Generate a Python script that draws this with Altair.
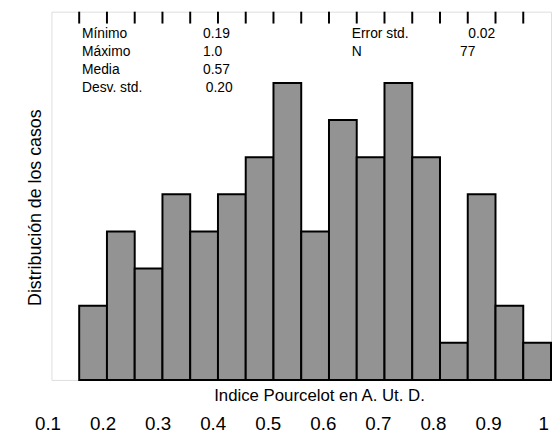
import altair as alt
import pandas as pd

# ---- data ----
bin_starts = [0.15, 0.20, 0.25, 0.30, 0.35, 0.40, 0.45, 0.50, 0.55,
              0.60, 0.65, 0.70, 0.75, 0.80, 0.85, 0.90, 0.95]
counts = [2, 4, 3, 5, 4, 5, 6, 8, 4, 7, 6, 8, 6, 1, 5, 2, 1]
bin_width = 0.05

tick_label_values = [0.1, 0.2, 0.3, 0.4, 0.5, 0.6, 0.7, 0.8, 0.9, 1.0]

stat_names = ["Mínimo", "Máximo", "Media", "Desv. std.", "Error std.", "N"]
stat_values = ["0.19", "1.0", "0.57", "0.20", "0.02", "77"]

x_title = "Indice Pourcelot en A. Ut. D."
y_title = "Distribución de los casos"

# ---- layout (kept apart from the data) ----
FONT = "Liberation Sans"
W, H = 506, 373
X_DOMAIN = [0.1, 1.0]
Y_DOMAIN = [0, 9.92]

name_x = [0.155, 0.155, 0.155, 0.155, 0.641, 0.641]
value_x = [0.373, 0.373, 0.373, 0.378, 0.851, 0.836]
row_y = [9.33, 8.83, 8.34, 7.85, 9.33, 8.83]

bars_df = pd.DataFrame({
    "start": bin_starts,
    "end": [b + bin_width for b in bin_starts],
    "count": counts,
})
ticks_df = pd.DataFrame({"edge": bin_starts})
labels_df = pd.DataFrame({"v": tick_label_values})
ann_df = pd.DataFrame({
    "name": stat_names, "value": stat_values,
    "nx": name_x, "vx": value_x, "y": row_y,
})

xs = alt.Scale(domain=X_DOMAIN, nice=False, zero=False)
ys = alt.Scale(domain=Y_DOMAIN, nice=False, zero=True)

bars = alt.Chart(bars_df).mark_rect(
    color="#939393", stroke="black", strokeWidth=2
).encode(
    x=alt.X("start:Q", scale=xs, axis=None),
    x2="end:Q",
    y=alt.Y("count:Q", scale=ys, axis=alt.Axis(
        title=y_title, labels=False, ticks=False, domain=False, grid=False,
        titleFont=FONT, titleFontSize=18, titleFontWeight="normal",
        titleColor="black", titleAngle=270, titleBaseline="middle",
        titleAlign="center", titleX=-16, titleY=198)),
    y2=alt.datum(0),
)

top_ticks = alt.Chart(ticks_df).mark_rule(color="black", strokeWidth=2).encode(
    x=alt.X("edge:Q", scale=xs, axis=None),
    y=alt.value(0),
    y2=alt.value(12),
)

names = alt.Chart(ann_df).mark_text(
    align="left", baseline="middle", font=FONT, fontSize=14, color="black"
).encode(
    x=alt.X("nx:Q", scale=xs, axis=None),
    y=alt.Y("y:Q", scale=ys),
    text="name:N",
)
values = alt.Chart(ann_df).mark_text(
    align="left", baseline="middle", font=FONT, fontSize=14, color="black"
).encode(
    x=alt.X("vx:Q", scale=xs, axis=None),
    y=alt.Y("y:Q", scale=ys),
    text="value:N",
)

bottom_labels = alt.Chart(labels_df).mark_point(opacity=0).encode(
    x=alt.X("v:Q",
            scale=alt.Scale(domain=X_DOMAIN, range=[-4, 498], nice=False, zero=False),
            axis=alt.Axis(
                orient="bottom", values=tick_label_values, format=".1~f",
                title=x_title, domain=False, ticks=False, tickSize=0, grid=False,
                labelFont=FONT, labelFontSize=19, labelColor="black",
                labelBaseline="middle", labelPadding=44, labelFlush=False,
                labelOverlap=False,
                titleFont=FONT, titleFontSize=17, titleFontWeight="normal",
                titleColor="black", titleBaseline="middle", titleAlign="center",
                titleX=271, titleY=16)),
)

chart = alt.layer(bars, top_ticks, names, values, bottom_labels).resolve_scale(
    x="independent"
).properties(
    width=W, height=H,
    padding={"left": 44, "top": 1, "right": 1, "bottom": 52},
    autosize=alt.AutoSizeParams(type="none"),
).configure_view(stroke="black", strokeWidth=2).configure(background="white")

chart.save("out.html", embed_options={"renderer": "svg", "actions": False})
